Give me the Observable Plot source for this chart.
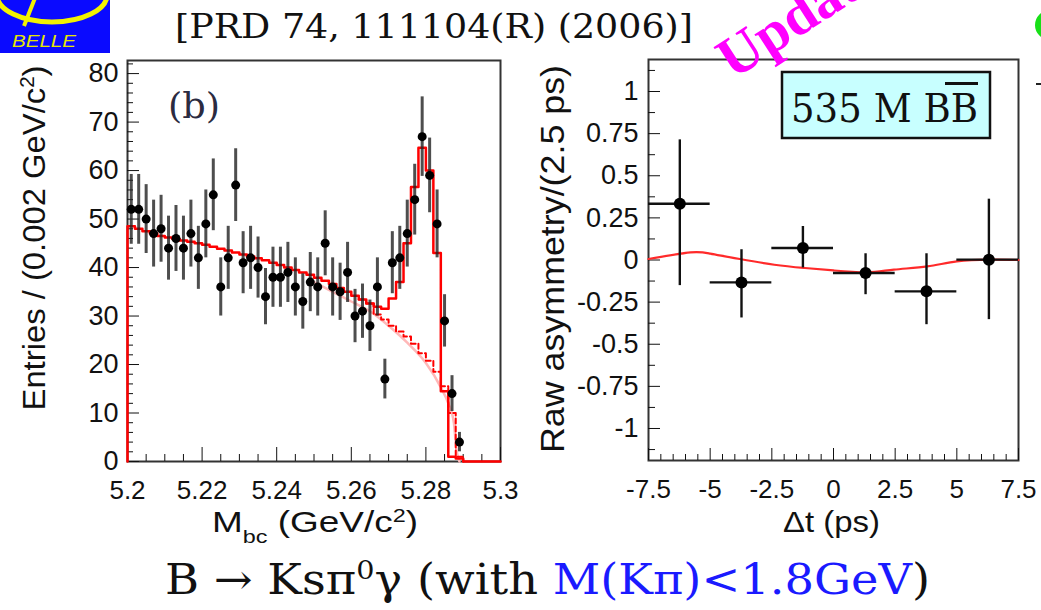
<!DOCTYPE html>
<html>
<head>
<meta charset="utf-8">
<script src="https://cdn.jsdelivr.net/npm/d3@7"></script>
<script src="https://cdn.jsdelivr.net/npm/@observablehq/plot@0.6"></script>
<style>
  html, body { margin: 0; padding: 0; background: #fff; }
  #page { position: relative; width: 1041px; height: 610px; overflow: hidden; background: #fff; }
  #left, #right { position: absolute; top: 0; }
  #left { left: 0; }
  #right { left: 520px; }
  #overlay { position: absolute; left: 0; top: 0; pointer-events: none; }
</style>
</head>
<body>
<div id="page">
  <div id="left"></div>
  <div id="right"></div>
  <svg id="overlay" width="1041" height="610" xmlns="http://www.w3.org/2000/svg">
    <!-- Belle logo -->
    <rect x="0" y="0" width="110" height="53" fill="#0a0aff"/>
    <ellipse cx="52" cy="-5" rx="55" ry="27" fill="none" stroke="#f2f200" stroke-width="5"/>
    <line x1="24" y1="26" x2="35" y2="-2" stroke="#f2f200" stroke-width="4"/>
    <text x="12" y="47" font-family="Liberation Sans, Arial, sans-serif" font-style="italic" font-size="16" fill="#e6e600" textLength="64" lengthAdjust="spacingAndGlyphs">BELLE</text>
    <!-- title -->
    <text x="175" y="38" font-family="DejaVu Serif, serif" font-size="33" fill="#111" textLength="518" lengthAdjust="spacingAndGlyphs">[PRD 74, 111104(R) (2006)]</text>
    <!-- magenta stamp -->
    <text transform="translate(733,80) rotate(-33)" font-family="Liberation Serif, serif" font-weight="bold" font-size="58" fill="#ff00ff">Updated</text>
    <circle cx="1050" cy="25" r="15" fill="#18e018"/>
    <line x1="1036" y1="84" x2="1041" y2="84" stroke="#222" stroke-width="2"/>
    <!-- (b) -->
    <text x="168" y="118" font-family="DejaVu Serif, serif" font-size="35" fill="#2b2b40" textLength="52" lengthAdjust="spacingAndGlyphs">(b)</text>
    <!-- axis titles -->
    <text transform="translate(45,238) rotate(-90)" text-anchor="middle" font-family="Liberation Sans, Arial, sans-serif" font-size="32" fill="#111" textLength="345" lengthAdjust="spacingAndGlyphs">Entries / (0.002 GeV/c<tspan baseline-shift="super" font-size="20">2</tspan>)</text>
    <text transform="translate(564,259) rotate(-90)" text-anchor="middle" font-family="Liberation Sans, Arial, sans-serif" font-size="33" fill="#111" textLength="388" lengthAdjust="spacingAndGlyphs">Raw asymmetry/(2.5 ps)</text>
    <text x="212" y="532" font-family="Liberation Sans, Arial, sans-serif" font-size="30" fill="#111" textLength="206" lengthAdjust="spacingAndGlyphs">M<tspan baseline-shift="sub" font-size="19">bc</tspan> (GeV/c<tspan baseline-shift="super" font-size="19">2</tspan>)</text>
    <text x="783" y="532" font-family="Liberation Sans, Arial, sans-serif" font-size="30" fill="#111" textLength="97" lengthAdjust="spacingAndGlyphs">Δt (ps)</text>
    <!-- caption -->
    <text x="165" y="594" font-family="DejaVu Serif, serif" font-size="42" fill="#111" textLength="765" lengthAdjust="spacingAndGlyphs">B → Ksπ<tspan baseline-shift="super" font-size="26">0</tspan>γ (with <tspan fill="#1a1aff">M(Kπ)&lt;1.8GeV</tspan>)</text>
    <!-- luminosity box -->
    <rect x="782" y="72" width="208" height="66" fill="#c8ffff" stroke="#111" stroke-width="2.5"/>
    <text x="791" y="122" font-family="DejaVu Serif, serif" font-size="39" fill="#111" textLength="187" lengthAdjust="spacingAndGlyphs">535 M BB</text>
    <line x1="945" y1="83.5" x2="978" y2="83.5" stroke="#111" stroke-width="3"/>
  </svg>
</div>
<script>
// ---------- Left panel: Mbc distribution ----------
const mbcCenters = [5.201,5.203,5.205,5.207,5.209,5.211,5.213,5.215,5.217,5.219,
  5.221,5.223,5.225,5.227,5.229,5.231,5.233,5.235,5.237,5.239,
  5.241,5.243,5.245,5.247,5.249,5.251,5.253,5.255,5.257,5.259,
  5.261,5.263,5.265,5.267,5.269,5.271,5.273,5.275,5.277,5.279,
  5.281,5.283,5.285,5.287,5.289];
const mbcEntries = [52,52,50,47,48,44,46,44,47,42,
  49,55,36,42,57,41,42,40,34,38,
  38,39,36,33,37,36,45,36,35,39,
  30,31,28,36,17,41,42,47,54,67,
  59,49,29,14,4];
const mbcErrors = [7.2,7.2,7.1,6.9,6.9,6.6,6.8,6.6,6.9,6.5,
  7.0,7.4,6.0,6.5,7.5,6.4,6.5,6.3,5.8,6.2,
  6.2,6.2,6.0,5.7,6.1,6.0,6.7,6.0,5.9,6.2,
  5.5,5.6,5.3,6.0,4.1,6.4,6.5,6.9,7.3,8.2,
  7.7,7.0,5.4,3.7,2.0];
// total fit, one value per 0.002 bin from 5.200 to 5.300
const fitTotal = [48.5,48.0,47.5,47.0,46.5,46.2,45.9,45.6,45.3,45.0,
  44.7,44.3,43.9,43.5,43.1,42.7,42.3,41.9,41.5,41.0,
  40.5,40.0,39.5,39.0,38.5,37.9,37.3,36.6,35.8,35.0,
  34.2,33.4,32.6,31.9,31.5,33.6,37.0,45.0,56.6,64.7,
  60.0,43.0,14.5,1.0,0.6,0,0,0,0,0];
// background (dashed) histogram, lower bin edges and values
const bkgLo = [5.262,5.264,5.266,5.268,5.270,5.272,5.274,5.276,5.278,5.280,5.282,5.284,5.286,5.288,5.290];
const bkgVal = [33.4,32.6,30.3,29.3,28.0,26.8,25.8,24.3,22.3,20.8,18.5,15.5,10.0,1.0,0];
// continuum (smooth) curve
const argusX = [5.250,5.255,5.260,5.265,5.270,5.275,5.280,5.284,5.286,5.2875,5.2881,5.289];
const argusY = [37.0,35.0,33.0,31.0,28.0,24.5,20.3,15.3,12.0,8.0,3.0,0];
const yMajorL = [0,10,20,30,40,50,60,70,80];
const yLabelsL = ["0","10","20","30","40","50","60","70","80"];
const yMinorL = [2,4,6,8,12,14,16,18,22,24,26,28,32,34,36,38,42,44,46,48,52,54,56,58,62,64,66,68,72,74,76,78,82];
const xMajorL = [5.2,5.22,5.24,5.26,5.28,5.3];
const xLabelsL = ["5.2","5.22","5.24","5.26","5.28","5.3"];
const xMinorL = [5.205,5.21,5.215,5.225,5.23,5.235,5.245,5.25,5.255,5.265,5.27,5.275,5.285,5.29,5.295];

// ---------- Right panel: raw asymmetry ----------
const dtCenters = [-6.23,-3.73,-1.24,1.30,3.77,6.30];
const dtLo = [-7.5,-5,-2.5,0,2.5,5];
const dtHi = [-5,-2.5,0,2.5,5,7.5];
const asym = [0.334,-0.133,0.071,-0.077,-0.186,0.002];
const asymHi = [0.713,0.061,0.199,0.037,0.037,0.361];
const asymLo = [-0.152,-0.344,-0.047,-0.206,-0.384,-0.354];
const fitDt = [-7.5,-5.8,-5.0,-3.8,-2.4,-1.2,0,1.35,2.45,3.8,5.0,6.35,7.5];
const fitAsym = [0.006,0.045,0.038,0.006,-0.028,-0.047,-0.062,-0.073,-0.057,-0.038,-0.008,0.002,0.0];
const yMajorR = [-1,-0.75,-0.5,-0.25,0,0.25,0.5,0.75,1];
const yLabelsR = ["-1","-0.75","-0.5","-0.25","0","0.25","0.5","0.75","1"];
const yMinorR = [-1.125,-0.875,-0.625,-0.375,-0.125,0.125,0.375,0.625,0.875,1.125];
const xMajorR = [-7.5,-5,-2.5,0,2.5,5,7.5];
const xLabelsR = ["-7.5","-5","-2.5","0","2.5","5","7.5"];
const xMinorR = [-7,-6.5,-6,-5.5,-4.5,-4,-3.5,-3,-2,-1.5,-1,-0.5,0.5,1,1.5,2,3,3.5,4,4.5,5.5,6,6.5,7];

// ---------- build tables ----------
const binW = 0.002;
const pointsL = mbcCenters.map((x, i) => ({x, n: mbcEntries[i], e: mbcErrors[i]}));
const totalStep = [{x: 5.2, y: 0}, ...fitTotal.map((y, i) => ({x: 5.2 + binW * i, y})), {x: 5.3, y: fitTotal[fitTotal.length - 1]}];
const bkgStep = bkgLo.map((x, i) => ({x, y: bkgVal[i]}));
const argus = argusX.map((x, i) => ({x, y: argusY[i]}));
const pointsR = dtCenters.map((x, i) => ({x, y: asym[i], x1: dtLo[i], x2: dtHi[i], y1: asymLo[i], y2: asymHi[i]}));
const fitR = fitDt.map((x, i) => ({x, y: fitAsym[i]}));

const baseStyle = {fontFamily: "'Liberation Sans', Arial, sans-serif", fontSize: "26px", color: "#111", background: "transparent", overflow: "visible"};

const plotL = Plot.plot({
  width: 520, height: 545,
  marginLeft: 127, marginRight: 20, marginTop: 60, marginBottom: 84,
  x: {domain: [5.2, 5.3], label: null},
  y: {domain: [0, 82.7], label: null},
  style: baseStyle,
  marks: [
    Plot.frame({stroke: "#333", strokeWidth: 2}),
    Plot.axisY({ticks: yMinorL, tickSize: 6, dx: 6, tickFormat: () => "", label: null}),
    Plot.axisY({ticks: yMajorL, tickSize: 12, dx: 12, tickFormat: () => "", label: null}),
    Plot.axisY({ticks: yMajorL, tickSize: 0, tickPadding: 9, tickFormat: (d, i) => yLabelsL[i], label: null, fontSize: 27}),
    Plot.axisX({ticks: xMinorL, tickSize: 7, dy: -7, tickFormat: () => "", label: null}),
    Plot.axisX({ticks: xMajorL, tickSize: 14, dy: -14, tickFormat: () => "", label: null}),
    Plot.axisX({ticks: xMajorL, tickSize: 0, tickPadding: 19, tickFormat: (d, i) => xLabelsL[i], label: null}),
    Plot.line(argus, {x: "x", y: "y", curve: "monotone-x", stroke: "#ffb8b8", strokeWidth: 2.5}),
    Plot.line(bkgStep, {x: "x", y: "y", curve: "step-after", stroke: "#ff0000", strokeWidth: 2, strokeDasharray: "5,3"}),
    Plot.line(totalStep, {x: "x", y: "y", curve: "step-after", stroke: "#ff0000", strokeWidth: 2.5}),
    Plot.ruleX(pointsL, {x: "x", y1: d => d.n - d.e, y2: d => d.n + d.e, stroke: "#222", strokeWidth: 3, strokeOpacity: 0.8}),
    Plot.dot(pointsL, {x: "x", y: "n", r: 4.5, fill: "#000"})
  ]
});
document.getElementById("left").appendChild(plotL);

const plotR = Plot.plot({
  width: 521, height: 545,
  marginLeft: 128, marginRight: 23, marginTop: 59, marginBottom: 85,
  x: {domain: [-7.5, 7.5], label: null},
  y: {domain: [-1.19, 1.19], label: null},
  style: baseStyle,
  marks: [
    Plot.frame({stroke: "#333", strokeWidth: 2}),
    Plot.axisY({ticks: yMinorR, tickSize: 7, dx: 7, tickFormat: () => "", label: null}),
    Plot.axisY({ticks: yMajorR, tickSize: 12, dx: 12, tickFormat: () => "", label: null}),
    Plot.axisY({ticks: yMajorR, tickSize: 0, tickPadding: 10, tickFormat: (d, i) => yLabelsR[i], label: null, fontSize: 27}),
    Plot.axisX({ticks: xMinorR, tickSize: 6, dy: -6, tickFormat: () => "", label: null}),
    Plot.axisX({ticks: xMajorR, tickSize: 12, dy: -12, tickFormat: () => "", label: null}),
    Plot.axisX({ticks: xMajorR, tickSize: 0, tickPadding: 19, tickFormat: (d, i) => xLabelsR[i], label: null}),
    Plot.line(fitR, {x: "x", y: "y", curve: "natural", stroke: "#ff2a2a", strokeWidth: 2.2}),
    Plot.ruleX(pointsR, {x: "x", y1: "y1", y2: "y2", stroke: "#111", strokeWidth: 2.4}),
    Plot.ruleY(pointsR, {y: "y", x1: "x1", x2: "x2", stroke: "#111", strokeWidth: 2.4}),
    Plot.dot(pointsR, {x: "x", y: "y", r: 6, fill: "#000"})
  ]
});
document.getElementById("right").appendChild(plotR);
</script>
</body>
</html>
